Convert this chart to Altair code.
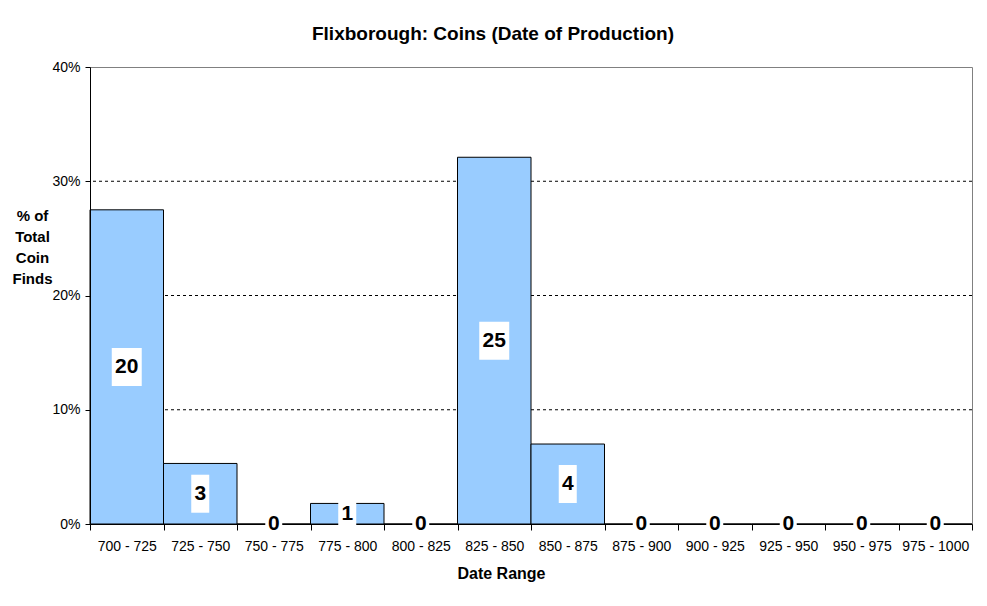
import altair as alt
import pandas as pd

ranges = ["700 - 725", "725 - 750", "750 - 775", "775 - 800", "800 - 825", "825 - 850",
          "850 - 875", "875 - 900", "900 - 925", "925 - 950", "950 - 975", "975 - 1000"]
pct = [27.5, 5.3, 0, 1.8, 0, 32.1, 7.0, 0, 0, 0, 0, 0]
counts = [20, 3, 0, 1, 0, 25, 4, 0, 0, 0, 0, 0]
y_ticks = [0, 10, 20, 30, 40]
grid_values = [10, 20, 30]

df = pd.DataFrame({"range": ranges, "pct": pct, "count": counts})
grid_df = pd.DataFrame({"g": grid_values})

FONT = "Liberation Sans, Arial, sans-serif"

xenc = alt.X(
    "range:N", sort=ranges,
    scale=alt.Scale(paddingInner=0, paddingOuter=0),
    axis=alt.Axis(
        title="Date Range", titleFont=FONT, titleFontSize=16, titleFontWeight="bold",
        titleColor="black", titleX=411, titleY=49, titleBaseline="middle", titleAlign="center",
        labelAngle=0, labelFont=FONT, labelFontSize=14, labelColor="black", labelPadding=9,
        tickBand="extent", tickSize=6, tickColor="black", domainColor="black",
        grid=False, zindex=0,
    ),
)

yaxis = alt.Axis(
    values=y_ticks, labelExpr="datum.value + '%'", grid=False,
    labelFont=FONT, labelFontSize=14, labelColor="black", labelPadding=5,
    tickSize=5, tickColor="black", domainColor="black",
    title=["% of", "Total", "Coin", "Finds"], titleAngle=0, titleFont=FONT,
    titleFontSize=15, titleFontWeight="bold", titleColor="black", titleLineHeight=21,
    titleX=-58, titleY=148, titleAlign="center", titleBaseline="middle", zindex=1,
)
yscale = alt.Scale(domain=[0, 40], nice=False)

grid = alt.Chart(grid_df).mark_rule(color="black", strokeDash=[3, 3], strokeWidth=1).encode(
    y=alt.Y("g:Q", scale=yscale, axis=yaxis)
)

bars = alt.Chart(df).mark_bar(fill="#99CCFF", stroke="black", strokeWidth=1).encode(
    x=xenc, y=alt.Y("pct:Q", scale=yscale, axis=yaxis)
)

lab = alt.Chart(df).transform_calculate(
    mid="datum.pct / 2",
    box="datum.count == 0 ? 'z' : (datum.count >= 10 ? 'w' : 'n')",
)

boxes = lab.mark_point(filled=True, fill="white", opacity=1, size=1444, strokeWidth=0).encode(
    x=xenc,
    y=alt.Y("mid:Q", scale=yscale, axis=yaxis),
    shape=alt.Shape(
        "box:N",
        scale=alt.Scale(
            domain=["z", "n", "w"],
            range=[
                "M-0.447,-0.632H0.447V0.632H-0.447Z",
                "M-0.474,-1H0.474V1H-0.474Z",
                "M-0.789,-1H0.789V1H-0.789Z",
            ],
        ),
        legend=None,
    ),
)

texts = lab.mark_text(font=FONT, fontSize=21, fontWeight="bold", color="black",
                      baseline="middle", align="center").encode(
    x=xenc, y=alt.Y("mid:Q", scale=yscale, axis=yaxis), text="count:Q"
)

chart = alt.layer(grid, bars, boxes, texts).properties(
    width=882, height=457,
    autosize=alt.AutoSizeParams(type="none"),
    padding={"left": 90, "top": 67, "right": 15, "bottom": 82},
    title=alt.TitleParams(
        "Flixborough: Coins (Date of Production)", font=FONT, fontSize=19,
        fontWeight="bold", color="black", anchor="middle", frame="group",
        dx=-38, offset=16,
    ),
    background="white",
).configure_view(stroke="#808080", strokeWidth=1)

chart.save("out.html", embed_options={"renderer": "svg", "actions": False})
